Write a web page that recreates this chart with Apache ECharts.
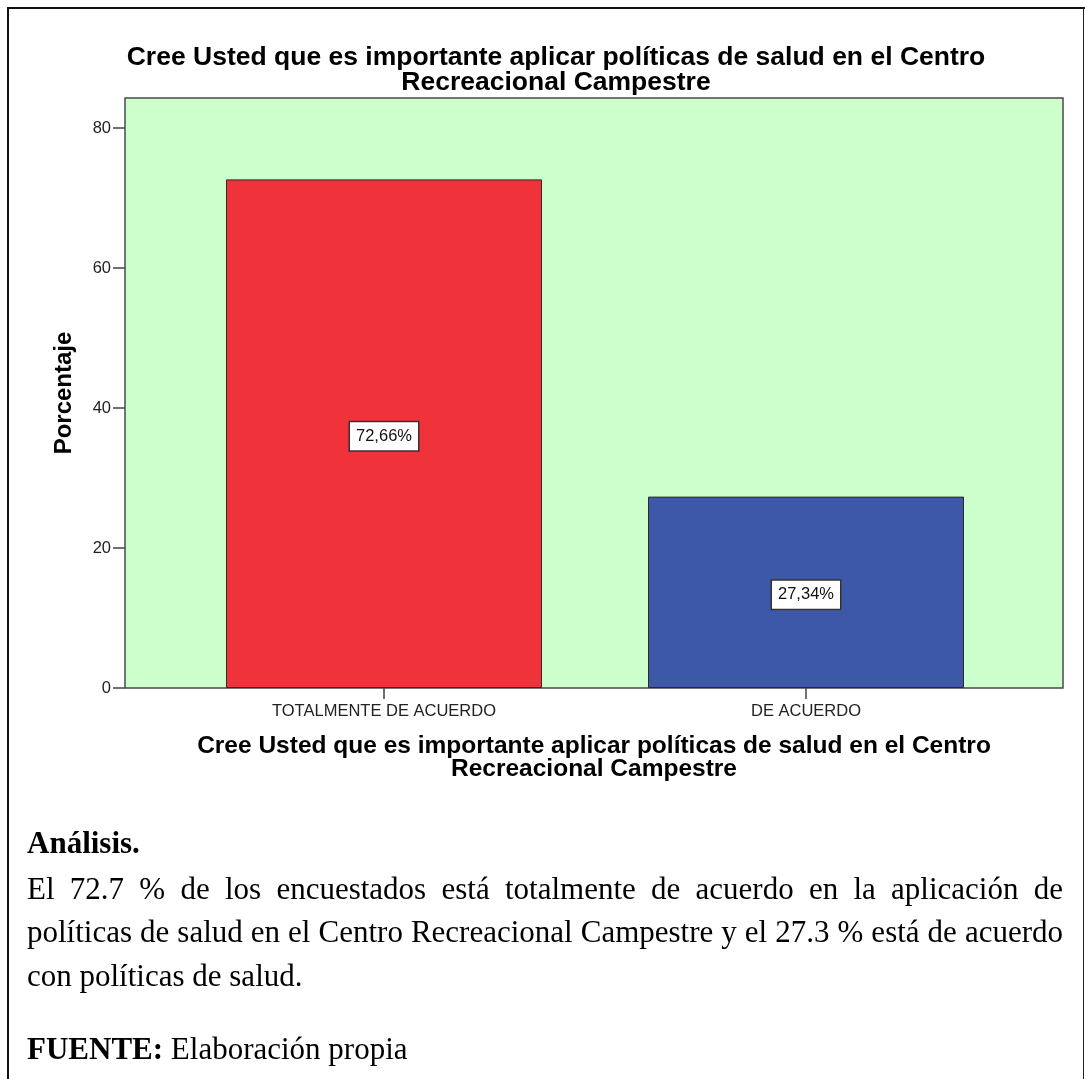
<!DOCTYPE html>
<html>
<head>
<meta charset="utf-8">
<script src="https://cdn.jsdelivr.net/npm/echarts@6/dist/echarts.min.js"></script>
<style>
  html, body { margin: 0; padding: 0; background: #fff; }
  #wrap { position: relative; width: 1085px; height: 1079px; overflow: hidden; background: #fff; }
  #chart { position: absolute; left: 0; top: 0; width: 1085px; height: 1079px; }
  .bl { position: absolute; left: 7px; top: 7px; width: 2px; height: 1072px; background: #111; }
  .bt { position: absolute; left: 7px; top: 7px; width: 1078px; height: 2px; background: #111; }
  .br { position: absolute; left: 1083px; top: 7px; width: 1px; height: 1072px; background: #222; }
  .doc { position: absolute; left: 27px; width: 1036px; font-family: "Liberation Serif", "Times New Roman", serif; font-size: 31px; color: #000; white-space: nowrap; }
  .just { text-align: justify; text-align-last: justify; white-space: normal; }
  b { font-weight: bold; }
</style>
</head>
<body>
<div id="wrap">
  <div id="chart"></div>
  <div class="bl"></div>
  <div class="bt"></div>
  <div class="br"></div>
  <div class="doc" style="top:822px; line-height:42px;"><b>Análisis.</b></div>
  <div class="doc just" style="top:868px; line-height:42px;">El 72.7 % de los encuestados está totalmente de acuerdo en la aplicación de</div>
  <div class="doc just" style="top:911px; line-height:42px;">políticas de salud en el Centro Recreacional Campestre y el 27.3 % está de acuerdo</div>
  <div class="doc" style="top:955px; line-height:42px;">con políticas de salud.</div>
  <div class="doc" style="top:1028px; line-height:42px;"><b>FUENTE:</b> Elaboración propia</div>
</div>
<script>
// ---- data ----
const categories = ['TOTALMENTE DE ACUERDO', 'DE ACUERDO'];
const percentValues = [72.66, 27.34];
const barColors = ['#F0333A', '#3D58A9'];
const yTickMin = 0;
const yTickMax = 80;
const yTickStep = 20;
const chartTitle = 'Cree Usted que es importante aplicar políticas de salud en el Centro\nRecreacional Campestre';
const xAxisTitle = 'Cree Usted que es importante aplicar políticas de salud en el Centro\nRecreacional Campestre';
const yAxisTitle = 'Porcentaje';

const FONT = '"Liberation Sans", Arial, sans-serif';
const chart = echarts.init(document.getElementById('chart'), null, { renderer: 'canvas' });

const barData = percentValues.map((v, i) => ({
  value: v,
  itemStyle: { color: barColors[i], borderColor: '#2a2a2a', borderWidth: 1 }
}));

chart.setOption({
  animation: false,
  backgroundColor: 'transparent',
  title: {
    text: chartTitle,
    left: 551,
    textAlign: 'center',
    top: 40,
    textStyle: { fontFamily: FONT, fontSize: 26.5, fontWeight: 'bold', color: '#000', lineHeight: 25 }
  },
  grid: [
    { left: 125, top: 98, width: 938, height: 590, show: true, backgroundColor: '#CCFFCC', borderColor: '#4a4a4a', borderWidth: 1.5 },
    { left: 173, top: 128, width: 844, height: 560, show: false }
  ],
  xAxis: [
    {
      gridIndex: 0, type: 'value', min: 0, max: 1,
      axisLine: { show: false }, axisTick: { show: false }, axisLabel: { show: false }, splitLine: { show: false },
      name: xAxisTitle, nameLocation: 'middle', nameGap: 47,
      nameTextStyle: { fontFamily: FONT, fontSize: 24.5, fontWeight: 'bold', color: '#000', lineHeight: 23 }
    },
    {
      gridIndex: 1, type: 'category', data: categories,
      axisLine: { show: false },
      axisTick: { show: true, alignWithLabel: true, length: 11, lineStyle: { color: '#444', width: 1.5 } },
      axisLabel: { fontFamily: FONT, fontSize: 16.5, color: '#222', margin: 15 },
      splitLine: { show: false }
    }
  ],
  yAxis: [
    {
      gridIndex: 0, type: 'value', min: 0, max: 1,
      axisLine: { show: false }, axisTick: { show: false }, axisLabel: { show: false }, splitLine: { show: false },
      name: yAxisTitle, nameLocation: 'middle', nameGap: 49, nameRotate: 90,
      nameTextStyle: { fontFamily: FONT, fontSize: 24, fontWeight: 'bold', color: '#000' }
    },
    {
      gridIndex: 1, type: 'value', min: yTickMin, max: yTickMax, interval: yTickStep, offset: 48,
      axisLine: { show: false },
      axisTick: { show: true, length: 12, lineStyle: { color: '#444', width: 1.5 } },
      axisLabel: { fontFamily: FONT, fontSize: 16.5, color: '#222', margin: 14 },
      splitLine: { show: false }
    }
  ],
  series: [{
    type: 'bar',
    xAxisIndex: 1, yAxisIndex: 1,
    data: barData,
    barWidth: 316,
    label: {
      show: true,
      position: 'inside',
      offset: [0, 2.5],
      formatter: p => p.value.toFixed(2).replace('.', ',') + '%',
      fontFamily: FONT, fontSize: 16.5, color: '#111',
      backgroundColor: '#fff', borderColor: '#333', borderWidth: 1.5,
      padding: [6, 6, 5, 6]
    }
  }]
});
</script>
</body>
</html>
